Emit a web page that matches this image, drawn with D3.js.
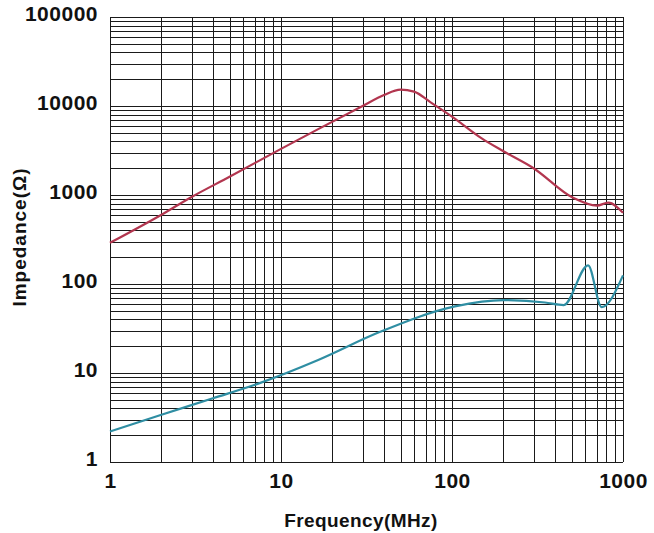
<!DOCTYPE html>
<html>
<head>
<meta charset="utf-8">
<script src="https://cdn.jsdelivr.net/npm/d3@7"></script>
<style>
  html, body { margin: 0; padding: 0; background: #fff; }
  svg text { font-family: "Liberation Sans", Arial, sans-serif; font-weight: bold; fill: #111; }
</style>
</head>
<body>
<svg id="chart" width="654" height="533"></svg>
<script>
// ---- data ----
const xTicks = [1, 10, 100, 1000];
const yTicks = [1, 10, 100, 1000, 10000, 100000];
const redFreq  = [1, 2, 3, 5, 10, 16.5, 30, 40, 50, 60, 75, 100, 150, 200, 300, 510, 705, 820, 1000];
const redImp   = [290, 600, 950, 1600, 3300, 5500, 10000, 13300, 15300, 14500, 11000, 7600, 4300, 3100, 2000, 930, 760, 820, 630];
const blueFreq = [1, 2, 4, 7.5, 16.5, 38, 104, 200, 350, 450, 625, 750, 1000];
const blueImp  = [2.2, 3.4, 5.2, 7.7, 14, 29, 56, 66, 62, 58, 162, 55, 125];
const xTitle = "Frequency(MHz)";
const yTitle = "Impedance(Ω)";

(function () {
// ---- layout ----
const svg = d3.select("#chart");
const mLeft = 110, mRight = 623, mTop = 17, mBottom = 462;

const x = d3.scaleLog().domain([1, 1000]).range([mLeft, mRight]);
const y = d3.scaleLog().domain([1, 100000]).range([mBottom, mTop]);

// minor + major grid values
const xGrid = [];
for (let d = 1; d < 1000; d *= 10) for (let k = 1; k <= 10; k++) xGrid.push(d * k);
const yGrid = [];
for (let d = 1; d < 100000; d *= 10) for (let k = 1; k <= 10; k++) yGrid.push(d * k);

const grid = svg.append("g").attr("stroke", "#1a1a1a").attr("stroke-width", 1).attr("shape-rendering", "crispEdges");
grid.selectAll("line.v").data(Array.from(new Set(xGrid))).join("line")
  .attr("x1", d => Math.round(x(d)) + 0.5).attr("x2", d => Math.round(x(d)) + 0.5)
  .attr("y1", mTop).attr("y2", mBottom);
grid.selectAll("line.h").data(Array.from(new Set(yGrid))).join("line")
  .attr("y1", d => Math.round(y(d)) + 0.5).attr("y2", d => Math.round(y(d)) + 0.5)
  .attr("x1", mLeft).attr("x2", mRight);

// axes (labels only, via d3 axes)
const fmt = d => String(d);
const labelFont = '"Liberation Sans", Arial, sans-serif';
const xAxis = svg.append("g").attr("transform", `translate(0,${mBottom})`)
  .call(d3.axisBottom(x).tickValues(xTicks).tickFormat(fmt).tickSize(0).tickPadding(11));
xAxis.select(".domain").remove();
xAxis.selectAll("text").attr("font-size", 21).attr("fill", "#111")
  .style("font-family", labelFont).style("font-weight", "bold").style("letter-spacing", "0.5px");

const yAxis = svg.append("g").attr("transform", `translate(${mLeft},0)`)
  .call(d3.axisLeft(y).tickValues(yTicks).tickFormat(fmt).tickSize(0).tickPadding(12));
yAxis.select(".domain").remove();
yAxis.selectAll("text").attr("font-size", 21).attr("fill", "#111").attr("dy", "0.15em")
  .style("font-family", labelFont).style("font-weight", "bold").style("letter-spacing", "0.5px");

// titles
svg.append("text").attr("x", 361).attr("y", 527)
  .attr("text-anchor", "middle").attr("font-size", 19).style("letter-spacing", "0.4px").text(xTitle);
svg.append("text").attr("transform", `translate(26,237) rotate(-90)`)
  .attr("text-anchor", "middle").attr("font-size", 19).style("letter-spacing", "1px").text(yTitle);

// curves
const line = d3.line().x(d => x(d[0])).y(d => y(d[1])).curve(d3.curveMonotoneX);
svg.append("path").datum(redFreq.map((f, i) => [f, redImp[i]]))
  .attr("d", line).attr("fill", "none").attr("stroke", "#b2364f").attr("stroke-width", 2.2);
svg.append("path").datum(blueFreq.map((f, i) => [f, blueImp[i]]))
  .attr("d", line).attr("fill", "none").attr("stroke", "#2f8ea3").attr("stroke-width", 2.2);
})();
</script>
</body>
</html>
